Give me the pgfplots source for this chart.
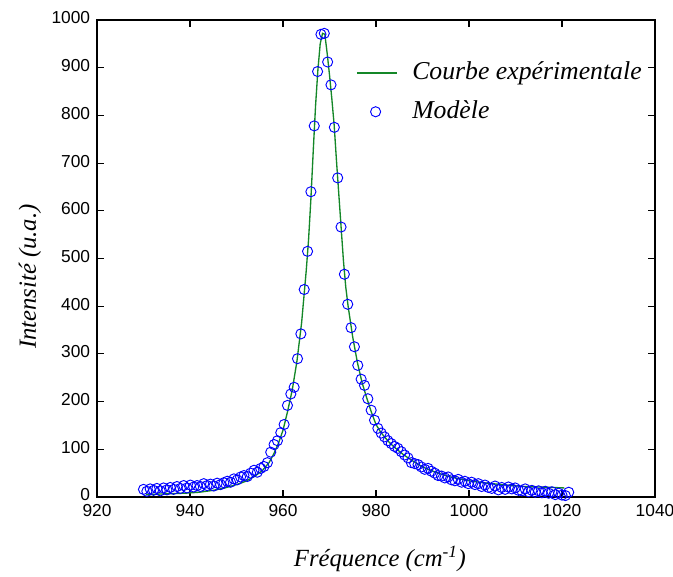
\documentclass[border=0pt]{standalone}
\usepackage{fontspec}
\setmainfont{Liberation Serif}
\newfontfamily\tickfont{Liberation Sans}
\usepackage{pgfplots}
\pgfplotsset{compat=1.18}
\definecolor{mgreen}{RGB}{20,135,40}
\pgfplotsset{
  lineleg/.style={legend image code/.code={\draw[##1] (0pt,0pt) -- (30pt,0pt);}},
  markleg/.style={legend image code/.code={\draw[##1] plot coordinates {(14pt,0pt)};}},
}
\begin{document}
\begin{tikzpicture}
\useasboundingbox (-72.75pt,-59.25pt) rectangle (432pt,372.75pt);
\begin{axis}[
  at={(0,0)}, anchor=south west,
  scale only axis, width=418.5pt, height=357.75pt,
  xmin=920, xmax=1040, ymin=0, ymax=1000,
  xtick={920,940,...,1040}, ytick={0,100,...,1000},
  tick align=inside, major tick length=5pt,
  axis line style={line width=0.8pt}, every tick/.style={line width=0.8pt, black},
  /pgf/number format/assume math mode=true,
  /pgf/number format/set thousands separator={},
  ticklabel style={font=\tickfont\fontsize{13pt}{15pt}\selectfont},
  yticklabel style={anchor=east, inner sep=0pt, xshift=-5pt, yshift=1.5pt},
  xticklabel style={anchor=north, inner sep=0pt, yshift=-5.5pt},
  xlabel={\itshape Fréquence (cm\textsuperscript{-1})},
  ylabel={\itshape Intensité (u.a.)},
  label style={font=\fontsize{18.5pt}{22pt}\selectfont},
  xlabel style={at={(axis description cs:0.507,-0.1447)}, anchor=base},
  ylabel style={at={(axis description cs:-0.1095,0.462)}, anchor=base},
  legend style={draw=none, fill=none, at={(axis description cs:0.457,0.920)}, anchor=north west,
    font=\itshape\fontsize{19.3pt}{22pt}\selectfont, row sep=11pt, column sep=0pt,
    nodes={inner sep=0pt, text height=14pt, text depth=4pt}},
  legend cell align=left,
]
\addplot[mgreen, line width=1pt, lineleg] coordinates {
(930.5,5) (933,6) (936,7) (939,8) (942,10) (945,14) (947.5,19) (950,26) (952,33) (954,44)
(955.5,55) (957,72) (958,90) (959,112) (960,140) (961,180) (962,225) (963,285) (964,365)
(965,475) (965.5,540) (966,625) (966.5,725) (967,820) (967.5,895) (968,950) (968.5,972)
(969,970) (969.5,930) (970,885) (970.5,835) (971,780) (971.5,705) (972,635) (972.5,565)
(973,495) (973.5,440) (974,400) (975,335) (976,282) (977,240) (978,208) (979,178) (980,152)
(981,136) (982,124) (983,113) (984,104) (986,88) (988,75) (990,63) (992,55) (994,48)
(996,42) (998,38) (1000,34) (1003,30) (1006,27) (1009,24) (1012,22) (1015,21) (1018,20) (1020.5,19)
};
\addlegendentry{\hspace{11pt}Courbe expérimentale}
\addplot[only marks, mark=o, blue, mark size=3.8pt, mark options={line width=0.7pt}, markleg] coordinates {
(930.00,16) (930.72,12) (931.44,17) (932.16,14) (932.88,18) (933.60,13) (934.32,19) (935.04,15)
(935.76,20) (936.48,16) (937.20,22) (937.92,18) (938.64,24) (939.36,19) (940.08,25) (940.80,21)
(941.52,24) (942.24,22) (942.96,28) (943.68,24) (944.40,27) (945.12,23) (945.84,29) (946.56,26)
(947.28,30) (948.00,33) (948.72,31) (949.44,38) (950.16,36) (950.88,42) (951.60,45) (952.32,43)
(953.04,50) (953.76,56) (954.48,52) (955.20,60) (955.92,64) (956.64,72) (957.36,94) (958.08,110)
(958.80,118) (959.52,135) (960.24,152) (960.96,192) (961.68,216) (962.40,230) (963.12,290) (963.84,342)
(964.56,435) (965.28,515) (966.00,640) (966.72,778) (967.44,892) (968.16,970) (968.88,972) (969.60,912)
(970.32,864) (971.04,775) (971.76,669) (972.48,566) (973.20,467) (973.92,404) (974.64,355) (975.36,315)
(976.08,276) (976.80,247) (977.52,234) (978.24,206) (978.96,182) (979.68,161) (980.40,144) (981.12,134)
(981.84,126) (982.56,118) (983.28,112) (984.00,106) (984.72,102) (985.44,95) (986.16,88) (986.88,82)
(987.60,72) (988.32,70) (989.04,68) (989.76,63) (990.48,58) (991.20,60) (991.92,54) (992.64,50)
(993.36,45) (994.08,44) (994.80,40) (995.52,42) (996.24,36) (996.96,34) (997.68,37) (998.40,31)
(999.12,33) (999.84,28) (1000.56,31) (1001.28,26) (1002.00,28) (1002.72,22) (1003.44,25) (1004.16,20)
(1004.88,18) (1005.60,23) (1006.32,15) (1007.04,20) (1007.76,16) (1008.48,21) (1009.20,17) (1009.92,19)
(1010.64,14) (1011.36,13) (1012.08,17) (1012.80,11) (1013.52,14) (1014.24,10) (1014.96,13) (1015.68,9)
(1016.40,12) (1017.12,8) (1017.84,11) (1018.56,5) (1019.28,8) (1020.00,4) (1020.72,3) (1021.44,10)
};
\addlegendentry{\hspace{11pt}Modèle}
\end{axis}
\end{tikzpicture}
\end{document}
